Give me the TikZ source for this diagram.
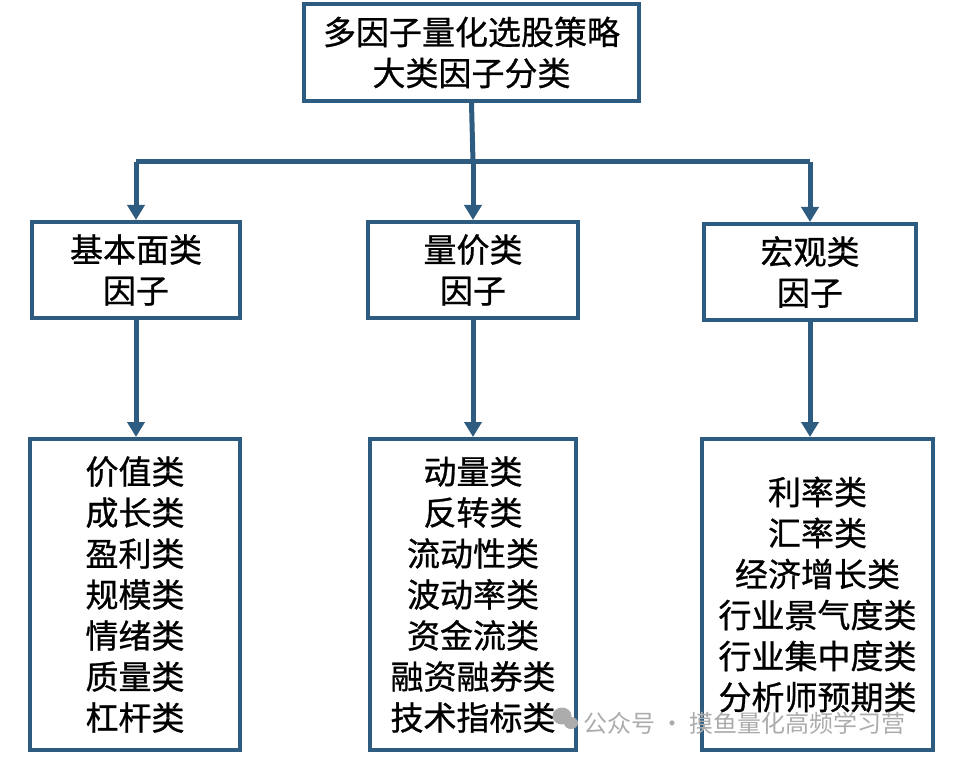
\documentclass[tikz,border=0pt]{standalone}
\usepackage{fontspec}
\setmainfont{Noto Sans CJK SC}
\newfontfamily\cjk[FakeBold=0.8]{Noto Sans CJK SC}
\newfontfamily\cjkwm{Noto Sans CJK SC}
\usetikzlibrary{arrows.meta}
\definecolor{boxblue}{RGB}{45,92,128}
\definecolor{wmgray}{RGB}{172,172,172}
\tikzset{
  box/.style={draw=boxblue, line width=4pt, fill=white, rectangle, align=center, inner sep=0pt,
    font=\cjk\fontsize{33}{41}\selectfont, text=black},
  conn/.style={draw=boxblue, line width=5pt},
  arr/.style={conn, -{Triangle[width=17pt,length=15pt]}},
}
\begin{document}
\begin{tikzpicture}[x=1pt,y=-1pt]
\useasboundingbox (0,0) rectangle (959,759);
\node[box, minimum width=335pt, minimum height=97pt] (top) at (471.5,52.5) {多因子量化选股策略\\大类因子分类};
\node[box, minimum width=208pt, minimum height=96pt] (l2) at (136,270) {基本面类\\因子};
\node[box, minimum width=210pt, minimum height=96pt] (m2) at (473,270) {量价类\\因子};
\node[box, minimum width=212pt, minimum height=96pt] (r2) at (810,272) {宏观类\\因子};
\node[box, minimum width=210pt, minimum height=311pt] (l3) at (135,594.5) {价值类\\成长类\\盈利类\\规模类\\情绪类\\质量类\\杠杆类};
\node[box, minimum width=206pt, minimum height=311pt] (m3) at (473,594.5) {动量类\\反转类\\流动性类\\波动率类\\资金流类\\融资融券类\\技术指标类};
\node[box, minimum width=231pt, minimum height=311pt] (r3) at (817.5,594.5) {利率类\\汇率类\\经济增长类\\行业景气度类\\行业集中度类\\分析师预期类};
\coordinate (j) at (473,162);
\coordinate (jl) at (136,162);
\coordinate (jr) at (810,162);
\draw[conn] (top.south) -- (j);
\draw[conn] (jl) -- (jr);
\draw[arr] (j) -- (m2.north);
\draw[arr] (jl) -- (l2.north);
\draw[arr] (jr) -- (r2.north);
\draw[arr] (l2.south) -- (l2.south |- l3.north);
\draw[arr] (m2.south) -- (m2.south |- m3.north);
\draw[arr] (r2.south) -- (r2.south |- r3.north);
% watermark
\fill[wmgray] (562,716) ellipse (9.5pt and 8.5pt);
\fill[wmgray] (571,723) ellipse (7pt and 6pt);
\node[anchor=west, inner sep=0pt, text=wmgray, font=\cjkwm\fontsize{24}{24}\selectfont] (wm) at (583,723) {公众号 · 摸鱼量化高频学习营};
\end{tikzpicture}
\end{document}
